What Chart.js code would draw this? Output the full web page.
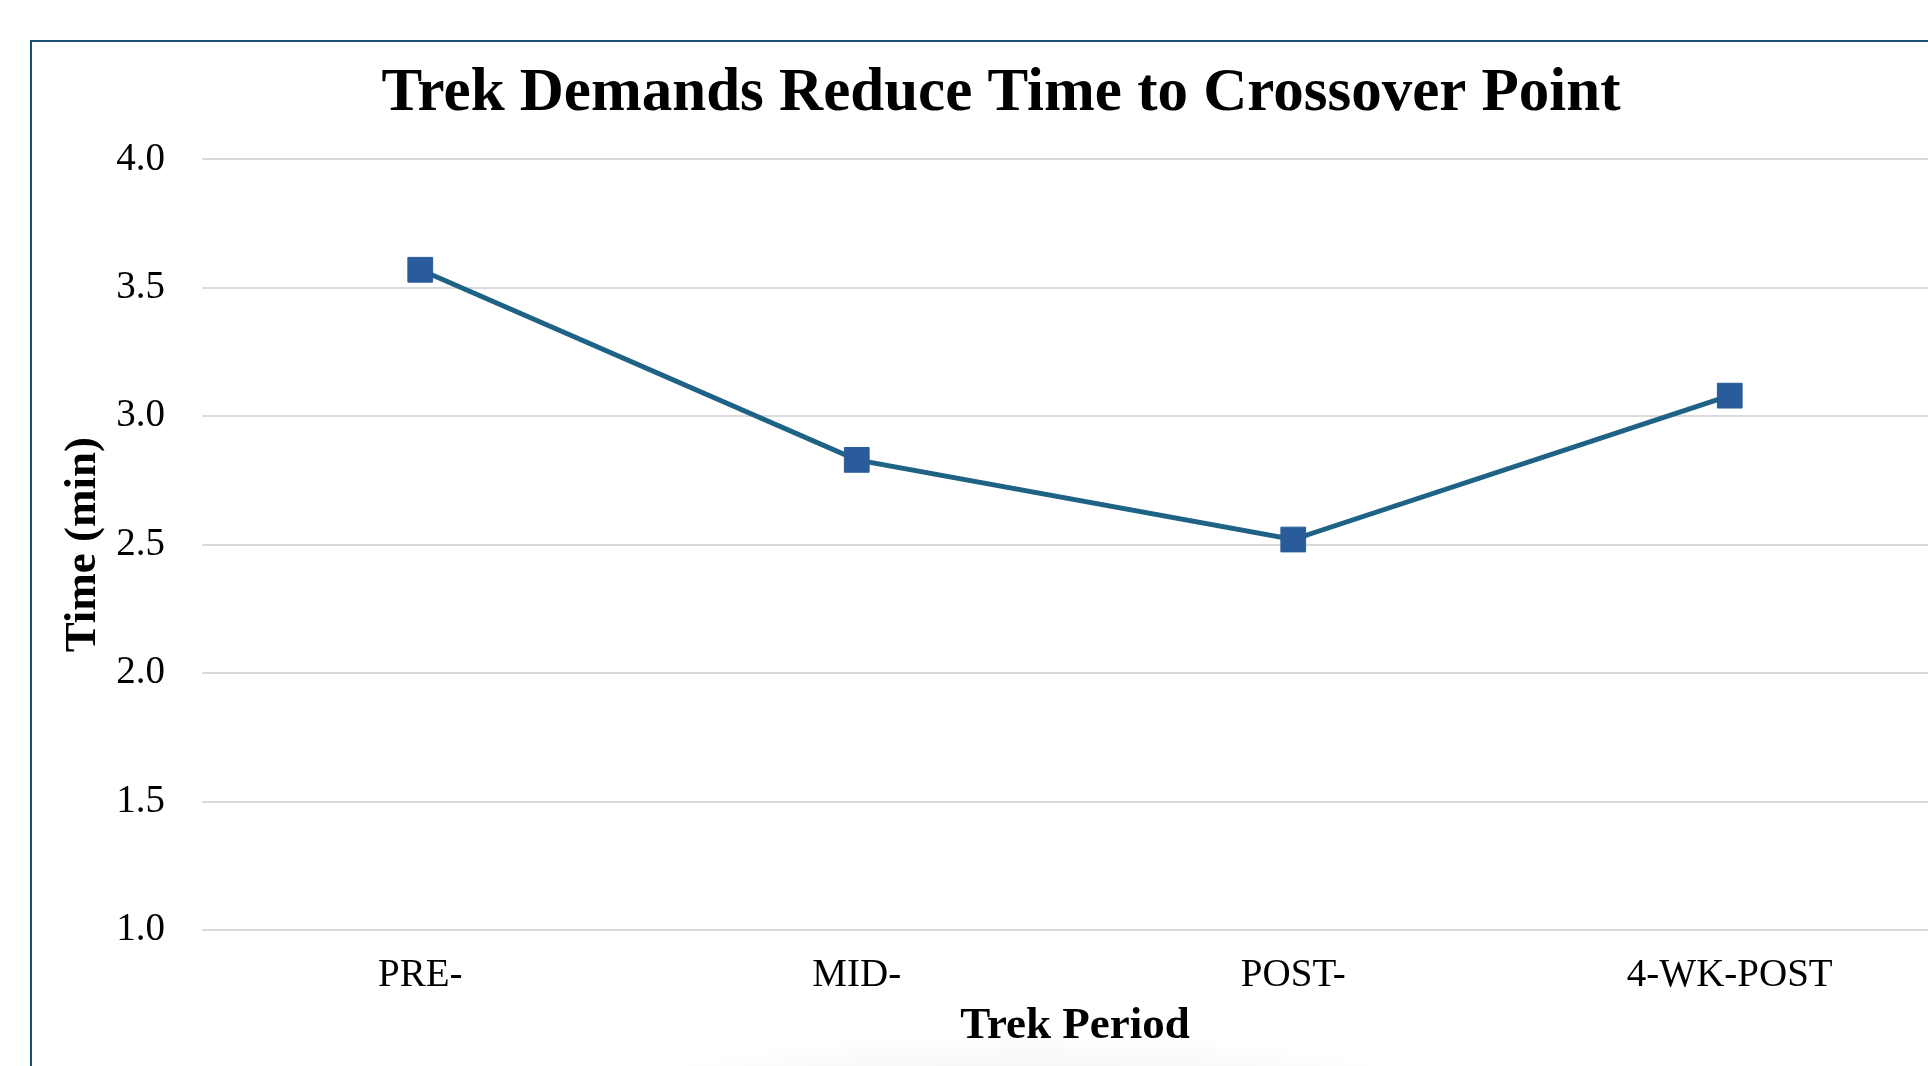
<!DOCTYPE html>
<html>
<head>
<meta charset="utf-8">
<script src="https://cdn.jsdelivr.net/npm/chart.js@4.4.1/dist/chart.umd.min.js"></script>
<style>
  html, body { margin: 0; padding: 0; background: #ffffff; overflow: hidden; width: 1928px; height: 1066px; }
  #frame { position: absolute; left: 30px; top: 40px; width: 2100px; height: 1200px;
           border-left: 2.5px solid #1d4f73; border-top: 2.5px solid #1d4f73; box-sizing: border-box; }
  #shadow { position: absolute; left: 640px; top: 1038px; width: 780px; height: 60px;
            background: radial-gradient(ellipse at 50% 100%, rgba(0,0,0,0.05) 0%, rgba(0,0,0,0.02) 55%, rgba(0,0,0,0) 75%); }
  #c { position: absolute; left: 0; top: 0; }
</style>
</head>
<body>
<div id="frame"></div>
<div id="shadow"></div>
<canvas id="c" width="2002" height="1066"></canvas>
<script>
const chartTitle = "Trek Demands Reduce Time to Crossover Point";
const categories = ["PRE-", "MID-", "POST-", "4-WK-POST"];
const timeValues = [3.57, 2.83, 2.52, 3.08];
const yTickValues = [1.0, 1.5, 2.0, 2.5, 3.0, 3.5, 4.0];
const xAxisTitle = "Trek Period";
const yAxisTitle = "Time (min)";

const serif = "'Liberation Serif', 'Times New Roman', serif";

new Chart(document.getElementById('c'), {
  type: 'line',
  data: {
    labels: categories,
    datasets: [{
      data: timeValues,
      borderColor: '#1e6386',
      borderWidth: 5,
      tension: 0,
      pointStyle: 'rect',
      pointRadius: 17.5,
      pointHoverRadius: 17.5,
      pointBackgroundColor: '#2a5b9b',
      pointBorderColor: '#2a5b9b',
      pointBorderWidth: 1,
      fill: false
    }]
  },
  options: {
    responsive: false,
    animation: false,
    layout: { padding: 0 },
    plugins: {
      legend: { display: false },
      tooltip: { enabled: false },
      title: {
        display: true,
        text: chartTitle,
        color: '#000000',
        font: { family: serif, size: 61, weight: 'bold' },
        padding: { top: 57.5, bottom: 28.6 }
      }
    },
    scales: {
      x: {
        offset: true,
        grid: { display: false, drawTicks: false },
        border: { display: false },
        ticks: { color: '#000000', font: { family: serif, size: 39 }, padding: 22, maxRotation: 0 },
        title: {
          display: true, text: xAxisTitle, color: '#000000',
          font: { family: serif, size: 45, weight: 'bold' },
          padding: { top: 0, bottom: 13 }
        },
        afterFit: (s) => { s.height = 136; }
      },
      y: {
        min: 1, max: 4,
        afterBuildTicks: (s) => { s.ticks = yTickValues.map(v => ({ value: v })); },
        grid: { color: '#dadada', lineWidth: 2, drawTicks: false },
        border: { display: false },
        ticks: {
          color: '#000000', font: { family: serif, size: 39 }, padding: 37,
          callback: (v) => Number(v).toFixed(1)
        },
        title: {
          display: true, text: yAxisTitle, color: '#000000',
          font: { family: serif, size: 45, weight: 'bold' },
          padding: { top: 56, bottom: 0 }
        },
        afterFit: (s) => { s.width = 202; }
      },
      yRight: {
        position: 'right',
        display: true,
        grid: { display: false, drawTicks: false },
        border: { display: false },
        ticks: { display: false },
        afterFit: (s) => { s.width = 54; }
      }
    }
  }
});
</script>
</body>
</html>
